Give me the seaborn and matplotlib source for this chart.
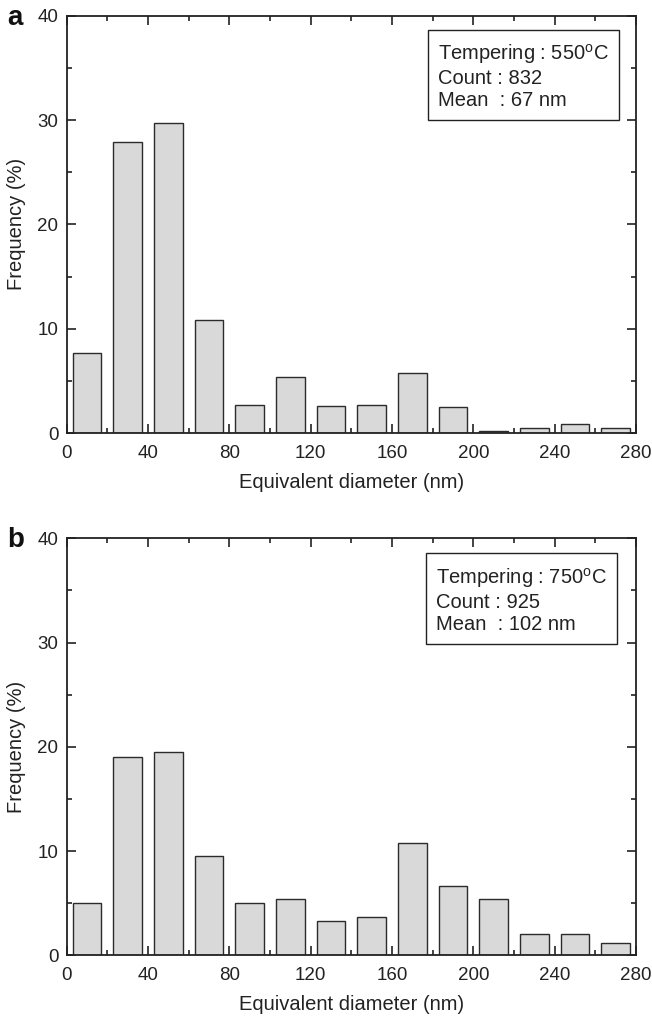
"""
Particle size histograms for two tempering temperatures
"""

import matplotlib
matplotlib.use("Agg")
import matplotlib.pyplot as plt
import seaborn as sns
import pandas as pd
from matplotlib.ticker import MultipleLocator

# bin centres (nm)
diameter = [10, 30, 50, 70, 90, 110, 130, 150, 170, 190, 210, 230, 250, 270]

# frequency (%) for each panel
freq_550 = [7.7, 27.9, 29.7, 10.8, 2.7, 5.4, 2.6, 2.7, 5.8, 2.5, 0.2, 0.5, 0.9, 0.45]
freq_750 = [5.0, 19.05, 19.5, 9.5, 5.0, 5.4, 3.3, 3.7, 10.8, 6.6, 5.4, 2.05, 2.05, 1.2]

panel_labels = ["a", "b"]
info_texts = [
    "Tempering : 550$^{\\mathrm{o}}$C\nCount : 832\nMean  : 67 nm",
    "Tempering : 750$^{\\mathrm{o}}$C\nCount : 925\nMean  : 102 nm",
]
info_pos = [(0.652, 0.937), (0.648, 0.934)]

sns.set_style("white")
plt.rcParams['font.family'] = ['Liberation Sans', 'DejaVu Sans']
plt.rcParams['mathtext.fontset'] = 'custom'
plt.rcParams['mathtext.rm'] = 'Liberation Sans'

fig = plt.figure(figsize=(6.52, 10.17), dpi=100)
axes_rects = [
    [0.1023, 0.5742, 0.8732, 0.4103],
    [0.1023, 0.0607, 0.8732, 0.4100],
]

for i, (rect, freq) in enumerate(zip(axes_rects, [freq_550, freq_750])):
    ax = fig.add_axes(rect)
    df = pd.DataFrame({"diameter": diameter, "freq": freq})
    sns.barplot(
        data=df, x="diameter", y="freq", native_scale=True, width=0.7,
        color="#d9d9d9", edgecolor="#2b2b2b", linewidth=1.0, saturation=1, ax=ax
    )

    ax.set_xlim(0, 280)
    ax.set_ylim(0, 40)
    ax.xaxis.set_major_locator(MultipleLocator(40))
    ax.xaxis.set_minor_locator(MultipleLocator(20))
    ax.yaxis.set_major_locator(MultipleLocator(10))
    ax.yaxis.set_minor_locator(MultipleLocator(5))
    ax.tick_params(which="both", direction="in", top=True, right=True,
                   bottom=True, left=True, width=1.2, color="#222222",
                   labelsize=13.5, labelcolor="#222222")
    ax.tick_params(which="major", length=6.5)
    ax.tick_params(which="minor", length=3.5)
    ax.tick_params(axis="x", which="major", pad=8.5)
    ax.tick_params(axis="y", which="major", pad=6)
    for spine in ax.spines.values():
        spine.set_linewidth(1.3)
        spine.set_color("#222222")

    ax.set_xlabel("Equivalent diameter (nm)", fontsize=14.5, color="#222222", labelpad=8)
    ax.set_ylabel("Frequency (%)", fontsize=14.5, color="#222222", labelpad=8)

    ax.text(info_pos[i][0], info_pos[i][1], info_texts[i], transform=ax.transAxes,
            ha="left", va="top", fontsize=14.5, color="#222222", linespacing=1.2,
            bbox=dict(boxstyle="square,pad=0.5", facecolor="white",
                      edgecolor="#222222", linewidth=1.0))

    ax.text(-0.105, 0.995, panel_labels[i], transform=ax.transAxes, ha="left", va="center",
            fontsize=20, fontweight="bold", color="#111111")

plt.savefig("out.png", dpi=100)
plt.close()
